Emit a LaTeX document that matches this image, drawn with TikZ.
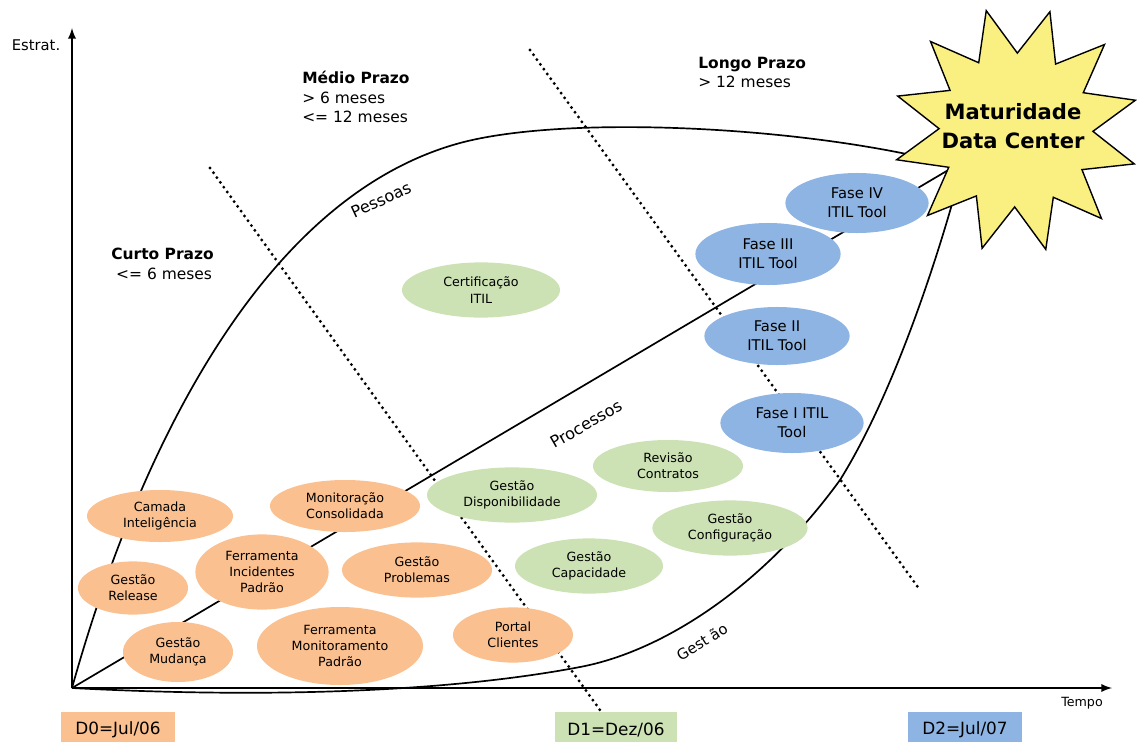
\documentclass[tikz,border=0pt]{standalone}
\usepackage{xcolor}
\usepackage{fontspec}
\setmainfont{DejaVu Sans}
\usetikzlibrary{shapes.geometric,backgrounds}

\definecolor{laranjaclaro}{RGB}{250,192,143}
\definecolor{verdeclaro}{RGB}{204,226,180}
\definecolor{azulclaro}{RGB}{141,180,226}
\definecolor{amareloclaro}{RGB}{250,240,130}

\begin{document}
\begin{tikzpicture}[x=0.025cm,y=-0.025cm,
          bolha/.style={ellipse,inner sep=0pt,align=center,font=\fontsize{9}{11.5}\selectfont},
          laranja/.style={bolha,fill=laranjaclaro},
          verde/.style={bolha,fill=verdeclaro},
          azul/.style={bolha,fill=azulclaro,font=\fontsize{10.5}{13.5}\selectfont},
          prazo/.style={line width=2.3pt,line cap=round,dash pattern=on 0pt off 4.2pt},
          curva/.style={line width=1.2pt},
          eixo/.style={line width=1.6pt,-latex},
          rotulo/.style={font=\fontsize{11.5}{13}\selectfont},
          periodo/.style={anchor=north west,align=left,inner sep=0pt,font=\fontsize{11}{13.8}\selectfont},
          data/.style={minimum height=0.9cm,inner sep=0pt,font=\fontsize{12}{14}\selectfont}]

          \useasboundingbox (0,0) rectangle (1138,742);

          \coordinate (O) at (72,688);
          \coordinate (X) at (1112,688);
          \coordinate (Y) at (72,28);
          \coordinate (P) at (925,158);
          \coordinate (G) at (962,168);
          \coordinate (d1a) at (210,168);
          \coordinate (d1b) at (600,710);
          \coordinate (d2a) at (530,50);
          \coordinate (d2b) at (920,590);

          \node[laranja,minimum width=3.65cm,minimum height=1.3cm] (camada) at (160,516) {Camada\\Inteligência};
          \node[laranja,minimum width=3.75cm,minimum height=1.3cm] (monit) at (345,506) {Monitoração\\Consolidada};
          \node[laranja,minimum width=3.33cm,minimum height=1.88cm] (ferrinc) at (262,572) {Ferramenta\\Incidentes\\Padrão};
          \node[laranja,minimum width=2.75cm,minimum height=1.33cm] (release) at (133,588) {Gestão\\Release};
          \node[laranja,minimum width=3.75cm,minimum height=1.38cm] (problemas) at (417,570) {Gestão\\Problemas};
          \node[laranja,minimum width=2.75cm,minimum height=1.5cm] (mudanca) at (178,652) {Gestão\\Mudança};
          \node[laranja,minimum width=4.15cm,minimum height=1.95cm] (ferrmon) at (340,646) {Ferramenta\\Monitoramento\\Padrão};
          \node[laranja,minimum width=3cm,minimum height=1.38cm] (portal) at (513,635) {Portal\\Clientes};

          \node[verde,minimum width=4.25cm,minimum height=1.38cm] (dispon) at (512,495) {Gestão\\Disponibilidade};
          \node[verde,minimum width=3.75cm,minimum height=1.3cm] (revisao) at (668,466) {Revisão\\Contratos};
          \node[verde,minimum width=3.88cm,minimum height=1.38cm] (config) at (730,528) {Gestão\\Configuração};
          \node[verde,minimum width=3.7cm,minimum height=1.38cm] (capac) at (589,566) {Gestão\\Capacidade};
          \node[verde,minimum width=3.95cm,minimum height=1.38cm] (certif) at (481,290) {Certificação\\ITIL};

          \node[azul,minimum width=3.58cm,minimum height=1.5cm] (fase4) at (857,203) {Fase IV\\ITIL Tool};
          \node[azul,minimum width=3.63cm,minimum height=1.55cm] (fase3) at (768,254) {Fase III\\ITIL Tool};
          \node[azul,minimum width=3.63cm,minimum height=1.45cm] (fase2) at (777,336) {Fase II\\ITIL Tool};
          \node[azul,minimum width=3.58cm,minimum height=1.5cm] (fase1) at (792,423) {Fase I ITIL\\Tool};

          \node[star,star points=12,star point ratio=1.6,minimum size=6.15cm,inner sep=0pt,
                shape border rotate=-16,draw,line width=1pt,fill=amareloclaro] (goal) at (1016,130) {};
          \node[align=center,font=\fontsize{15}{21}\selectfont\bfseries] (meta) at (1013,126) {Maturidade\\Data Center};

          \begin{scope}[on background layer]
          \draw[curva] (O) .. controls (130,480) and (250,200) .. (460,143)
                .. controls (560,116) and (780,125) .. (P);
          \draw[curva] (O) -- (goal.center);
          \draw[curva] (O) .. controls (300,700) and (470,688) .. (580,667)
                .. controls (660,652) and (760,590) .. (840,480)
                .. controls (890,400) and (935,270) .. (G);
          \draw[prazo] (d1a) -- (d1b);
          \draw[prazo] (d2a) -- (d2b);
          \end{scope}

          \draw[eixo] (O) -- (X);
          \draw[eixo] (O) -- (Y);
          \node[font=\fontsize{10.5}{12}\selectfont] (estrat) at (36,45) {Estrat.};
          \node[font=\fontsize{9}{11}\selectfont] (tempo) at (1082,703) {Tempo};

          \node[rotulo,rotate=25] (pessoas) at (381,200) {Pessoas};
          \node[rotulo,rotate=30] (processos) at (586,424) {Processos};
          \node[rotulo,rotate=32,font=\fontsize{10.5}{12}\selectfont] (gestao) at (702,642) {Gest ão};

          \node[periodo] (curto) at (111,248) {{\bfseries Curto Prazo}\\\ <= 6 meses};
          \node[periodo] (medio) at (302,71) {{\bfseries Médio Prazo}\\> 6 meses\\<= 12 meses};
          \node[periodo] (longo) at (698,57) {{\bfseries Longo Prazo}\\> 12 meses};

          \node[data,fill=laranjaclaro,minimum width=2.83cm] (d0) at (118,730) {D0=Jul/06};
          \node[data,fill=verdeclaro,minimum width=3.05cm] (d1) at (616,730) {D1=Dez/06};
          \node[data,fill=azulclaro,minimum width=2.85cm] (d2) at (965,730) {D2=Jul/07};

          \end{tikzpicture}
\end{document}
